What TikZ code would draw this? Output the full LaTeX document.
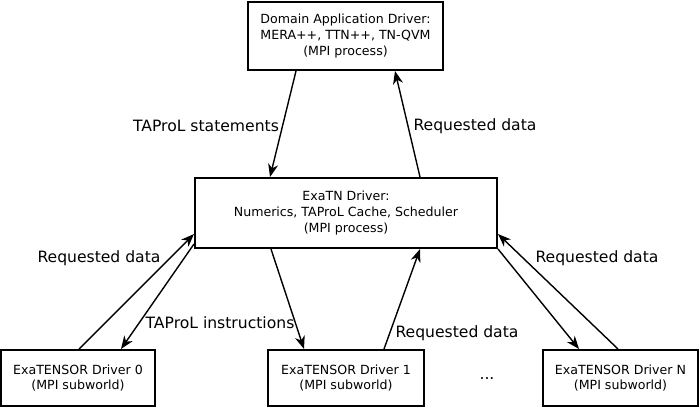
\documentclass[tikz,border=0pt]{standalone}
\usepackage{fontspec}
\setmainfont{DejaVu Sans}
\usetikzlibrary{arrows.meta,calc}
\begin{document}
\begin{tikzpicture}[x=1pt,y=-1pt,
  box/.style={draw,line width=2pt,inner sep=0pt,align=center,font=\fontsize{12.6}{15.8}\selectfont},
  conn/.style={line width=1.4pt,-{Stealth[length=13pt,width=10pt,inset=4pt]}},
  lbl/.style={inner sep=0pt,font=\fontsize{15.6}{18}\selectfont}]
\useasboundingbox (0,0) rectangle (700,408);
\node[box,minimum width=195pt,minimum height=68pt] (top) at (345.5,36) {Domain Application Driver:\\MERA++, TTN++, TN-QVM\\(MPI process)};
\node[box,minimum width=302pt,minimum height=70pt] (mid) at (346,213) {ExaTN Driver:\\Numerics, TAProL Cache, Scheduler\\(MPI process)};
\node[box,minimum width=154pt,minimum height=56pt] (b0) at (78,378) {ExaTENSOR Driver 0\\(MPI subworld)};
\node[box,minimum width=156pt,minimum height=56pt] (b1) at (346,378) {ExaTENSOR Driver 1\\(MPI subworld)};
\node[box,minimum width=155pt,minimum height=56pt] (bN) at (620.5,378) {ExaTENSOR Driver N\\(MPI subworld)};
\node[lbl] (dots) at (487,379) {...};
\draw[conn] ([xshift=49pt]top.south west) -- ([xshift=76pt]mid.north west);
\draw[conn] ([xshift=226pt]mid.north west) -- ([xshift=148pt]top.south west);
\draw[conn] ([xshift=79pt]b0.north west) -- ([yshift=15pt]mid.south west);
\draw[conn] ([yshift=5pt]mid.south west) -- ([xshift=121pt]b0.north west);
\draw[conn] ([xshift=77pt]mid.south west) -- ([xshift=37pt]b1.north west);
\draw[conn] ([xshift=117pt]b1.north west) -- ([xshift=226pt]mid.south west);
\draw[conn] (mid.south east) -- ([xshift=37pt]bN.north west);
\draw[conn] ([xshift=76pt]bN.north west) -- ([yshift=15pt]mid.south east);
\node[lbl] (l1) at (206,126) {TAProL statements};
\node[lbl] (l2) at (475,126) {Requested data};
\node[lbl] (l3) at (99,258) {Requested data};
\node[lbl] (l4) at (220,323) {TAProL instructions};
\node[lbl] (l5) at (457,333) {Requested data};
\node[lbl] (l6) at (597,258) {Requested data};
\end{tikzpicture}
\end{document}
